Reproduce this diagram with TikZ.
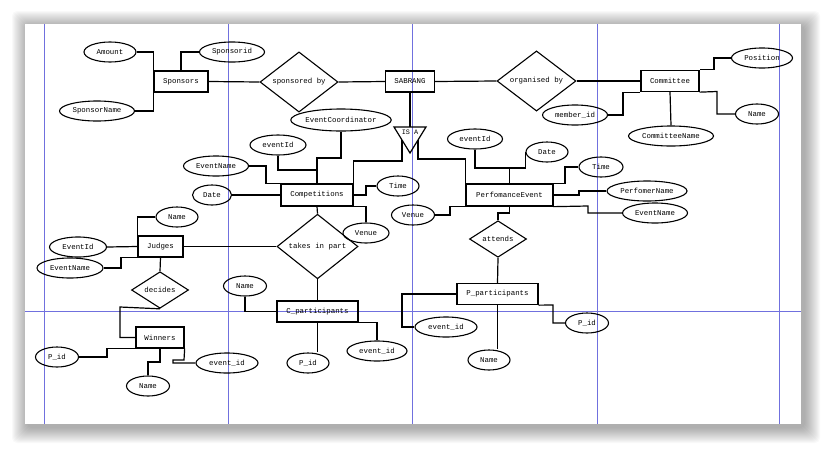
\documentclass[tikz,border=0pt]{standalone}
\usepackage{fontspec}
\newfontfamily\erfont{Liberation Mono}
\usetikzlibrary{shapes.geometric}
\definecolor{guide}{RGB}{112,112,222}
\tikzset{
  ent/.style={draw,line width=1.3pt,minimum height=21pt,inner sep=1pt},
  attr/.style={draw,ellipse,line width=1.1pt,minimum height=20pt,inner sep=0pt},
  rel/.style={draw,diamond,line width=1.1pt,inner sep=0pt},
  link/.style={line width=1.2pt}
}
\begin{document}
\begin{tikzpicture}[x=1pt,y=-1pt,font=\erfont\fontsize{7.4}{8}\selectfont]
\useasboundingbox (0,0) rectangle (826,450);
%\draw[help lines] (0,0) grid[step=50] (826,450);
\foreach \i in {1,...,16}
  \fill[black,opacity=0.025,rounded corners=5] (25-\i+3,24-\i+3) rectangle (801+\i+3,424+\i+3);
\fill[white] (25,24) rectangle (801,424);
\foreach \x in {44.5,228.5,412.5,597.5,779.5}
  \draw[guide,line width=1pt] (\x,24)--(\x,424);
\draw[guide,line width=1pt] (25,311.5)--(801,311.5);

% entities
\node[ent,minimum width=54pt] (spons) at (181,81.5) {Sponsors};
\node[ent,minimum width=49pt] (sabrang) at (410,81.5) {SABRANG};
\node[ent,minimum width=58pt] (comm) at (670,81) {Committee};
\node[ent,minimum width=72pt,minimum height=22pt] (comp) at (317,195) {Competitions};
\node[ent,minimum width=87pt,minimum height=22pt] (perf) at (509.5,195) {PerfomanceEvent};
\node[ent,minimum width=45pt] (judges) at (160.5,246.5) {Judges};
\node[ent,minimum width=81pt] (cpart) at (317.5,311.5) {C\_participants};
\node[ent,minimum width=81pt] (ppart) at (497.5,294) {P\_participants};
\node[ent,minimum width=48pt] (winners) at (160,337.5) {Winners};

% relationships
\node[rel,minimum width=78pt,minimum height=47pt] (sponby) at (299,82) {sponsored by};
\node[rel,minimum width=79pt,minimum height=47pt] (orgby) at (536.5,81) {organised by};
\node[rel,minimum width=81pt,minimum height=49pt] (takes) at (317.5,246.5) {takes in part};
\node[rel,minimum width=57pt,minimum height=32pt] (attends) at (498,239) {attends};
\node[rel,minimum width=57pt,minimum height=34pt] (decides) at (160,290) {decides};

% IS A
\coordinate (isatl) at (394,127);
\coordinate (isatr) at (426,127);
\coordinate (isabot) at (410,153);
\coordinate (isatop) at (410,127);
\coordinate (isal) at (402,140);
\coordinate (isar) at (418,140);
\draw[line width=1.2pt,line join=miter] (isatl)--(isatr)--(isabot)--cycle;
\node[inner sep=0pt,font=\erfont\fontsize{6.8}{7}\selectfont] (isa) at (410,132.5) {IS A};

% attributes
\node[attr,minimum width=52pt] (amount) at (110,52) {Amount};
\node[attr,minimum width=65pt] (sponsorid) at (232,52) {Sponsorid};
\node[attr,minimum width=75pt] (sponsorname) at (97,111) {SponsorName};
\node[attr,minimum width=61pt] (position) at (762,58) {Position};
\node[attr,minimum width=65pt] (cmember) at (575,115) {member\_id};
\node[attr,minimum width=85pt] (cname) at (671,136) {CommitteeName};
\node[attr,minimum width=43pt] (cmname) at (757,114) {Name};
\node[attr,minimum width=97pt,minimum height=22pt] (coord) at (341,120) {EventCoordinator};
\node[attr,minimum width=56pt] (ceventid) at (278,145) {eventId};
\node[attr,minimum width=65pt] (ceventname) at (216,166) {EventName};
\node[attr,minimum width=39pt] (cdate) at (212,195) {Date};
\node[attr,minimum width=42pt] (ctime) at (398,186) {Time};
\node[attr,minimum width=46pt] (cvenue) at (366,233) {Venue};
\node[attr,minimum width=43pt] (pvenue) at (413,215) {Venue};
\node[attr,minimum width=55pt] (peventid) at (475,139) {eventId};
\node[attr,minimum width=42pt] (pdate) at (547,152) {Date};
\node[attr,minimum width=44pt] (ptime) at (601,167) {Time};
\node[attr,minimum width=80pt] (pname) at (647,191) {PerfomerName};
\node[attr,minimum width=65pt] (peventname) at (655,213) {EventName};
\node[attr,minimum width=42pt] (jname) at (177,217) {Name};
\node[attr,minimum width=57pt] (jeventid) at (78,247) {EventId};
\node[attr,minimum width=66pt] (jeventname) at (70,268) {EventName};
\node[attr,minimum width=43pt] (cpname) at (245,286) {Name};
\node[attr,minimum width=60pt] (cpeid) at (377,351) {event\_id};
\node[attr,minimum width=42pt] (cppid) at (308,363) {P\_id};
\node[attr,minimum width=62pt] (ppeid) at (446,327) {event\_id};
\node[attr,minimum width=43pt] (pppid) at (587,323) {P\_id};
\node[attr,minimum width=42pt] (ppname) at (489,360) {Name};
\node[attr,minimum width=43pt] (wpid) at (57,357) {P\_id};
\node[attr,minimum width=43pt] (wname) at (148,386) {Name};
\node[attr,minimum width=62pt] (weid) at (227,363) {event\_id};

% connectors
\draw[link] (amount.east) -| (spons.north west);
\draw[link] (sponsorname.east) -| (spons.south west);
\draw[link] (sponsorid.west) -| (spons.north);
\draw[link] (spons.east) -- (sponby.west);
\draw[link] (sponby.east) -- (sabrang.west);
\draw[link] (sabrang.east) -- (orgby.west);
\draw[link] (orgby.east) -- (comm.west);
\draw[link] (position.west) -- (714,58) |- (comm.north east);
\draw[link] (comm.south east) -- (717,91.5) |- (cmname.west);
\draw[link] (comm.south) -- (cname.north);
\draw[link] (cmember.east) -- (623,115) |- (comm.south west);
\draw[link] (sabrang.south) -- (isatop);
\draw[link] (isal) -- (402,161) -| (comp.north east);
\draw[link] (isar) -- (418,159) -| (perf.north west);
\draw[link] (coord.south) -- (341,158) -| (comp.north);
\draw[link] (ceventid.south) |- (comp.north |- 0,170);
\draw[link] (ceventname.east) -- (266,166) |- (comp.north west);
\draw[link] (cdate.east) -- (comp.west);
\draw[link] (ctime.west) -- (366,186) |- (comp.east);
\draw[link] (comp.south east) -| (cvenue.north);
\draw[link] (comp.south) -- (takes.north);
\draw[link] (judges.east) -- (takes.west);
\draw[link] (takes.south) -- (cpart.north);
\draw[link] (perf.south) -- (509.5,213) -| (attends.north);
\draw[link] (attends.south) -- (ppart.north);
\draw[link] (ppart.west) -- (402,294) |- (ppeid.west);
\draw[link] (ppart.south east) -- (553,305) |- (pppid.west);
\draw[link] (ppart.south) -- (ppart.south |- ppname.north);
\draw[link] (cpname.south) |- (cpart.west);
\draw[link] (cpart.south east) -| (cpeid.north);
\draw[link] (cpart.south) -- (cpart.south |- cppid.north);
\draw[link] (jname.west) -| (judges.north west);
\draw[link] (jeventid.east) -- (judges.west);
\draw[link] (jeventname.east) -- (121,268) |- (judges.south west);
\draw[link] (judges.south) -- (decides.north);
\draw[link] (decides.south) -- (120,307) |- (winners.west);
\draw[link] (wpid.east) -- (107,357) |- (winners.south west);
\draw[link] (winners.south) -- (160,362) -| (wname.north);
\draw[link] (winners.south east) -- (184,360) -- (173,360) |- (weid.west);
\draw[link] (peventid.south) |- (perf.north |- 0,168) -- (perf.north);
\draw[link] (pdate.west) |- (perf.north |- 0,168);
\draw[link] (ptime.west) -- (565,167) |- (perf.north east);
\draw[link] (pname.west) -- (579,191) |- (perf.east);
\draw[link] (perf.south east) -- (588,206) |- (peventname.west);
\draw[link] (pvenue.east) -- (450,215) |- (perf.south west);
\end{tikzpicture}
\end{document}
